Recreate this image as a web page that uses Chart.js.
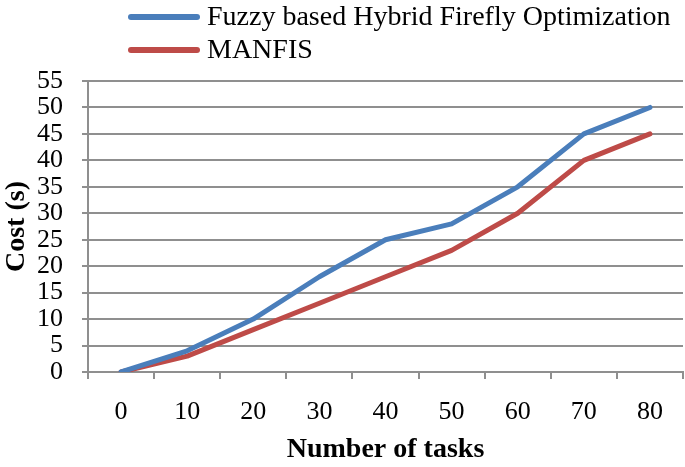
<!DOCTYPE html>
<html>
<head>
<meta charset="utf-8">
<script src="https://cdn.jsdelivr.net/npm/chart.js@4"></script>
<style>
  body { margin: 0; background: #fff; }
  #wrap { width: 685px; height: 467px; }
</style>
</head>
<body>
<div id="wrap"><canvas id="costchart" width="685" height="467"></canvas></div>
<script>
// data
const tasks = ['0', '10', '20', '30', '40', '50', '60', '70', '80'];
const fuzzyCost = [0, 4, 10, 18, 25, 28, 35, 45, 50];
const manfisCost = [0, 3, 8, 13, 18, 23, 30, 40, 45];

const seriesNames = ['Fuzzy based Hybrid Firefly Optimization', 'MANFIS'];
const seriesColors = ['#4A7EBB', '#BE4B48'];

// legend stacked in two rows, left aligned (built-in legend centres rows)
const stackLegend = {
  id: 'stackLegend',
  afterDraw(chart) {
    const c = chart.ctx;
    chart.data.datasets.forEach(function (ds, i) {
      const y = 17 + i * 33;
      c.save();
      c.strokeStyle = ds.borderColor;
      c.lineWidth = 6;
      c.lineCap = 'round';
      c.beginPath();
      c.moveTo(131, y);
      c.lineTo(197, y);
      c.stroke();
      c.fillStyle = '#000';
      c.font = '28px "Liberation Serif"';
      c.textBaseline = 'middle';
      c.fillText(ds.label, 207, y + 1);
      c.restore();
    });
  }
};

document.addEventListener("DOMContentLoaded", function () {
  const ctx = document.getElementById('costchart');
  if (ctx) {
    new Chart(ctx, {
      type: 'line',
      data: {
        labels: tasks,
        datasets: [{
          label: seriesNames[0],
          data: fuzzyCost,
          borderColor: seriesColors[0],
          backgroundColor: seriesColors[0],
          borderWidth: 5,
          pointRadius: 0,
          borderCapStyle: 'round',
          borderJoinStyle: 'round',
          tension: 0
        }, {
          label: seriesNames[1],
          data: manfisCost,
          borderColor: seriesColors[1],
          backgroundColor: seriesColors[1],
          borderWidth: 5,
          pointRadius: 0,
          borderCapStyle: 'round',
          borderJoinStyle: 'round',
          tension: 0
        }]
      },
      options: {
        responsive: false,
        animation: false,
        layout: {
          padding: { top: 81, right: 2, bottom: 0, left: 0 }
        },
        plugins: {
          legend: { display: false },
          tooltip: { enabled: false }
        },
        scales: {
          x: {
            offset: true,
            afterFit: function (scale) { scale.height = 95; },
            grid: {
              display: true,
              drawOnChartArea: false, // only the small tick marks
              offset: true,
              color: '#8f8f8f',
              lineWidth: 2,
              tickLength: 7
            },
            border: { color: '#8f8f8f', width: 2 },
            ticks: {
              autoSkip: false,
              maxRotation: 0,
              color: '#000',
              padding: 18,
              font: { family: '"Liberation Serif"', size: 26 }
            },
            title: {
              display: true,
              text: 'Number of tasks',
              color: '#000',
              padding: { top: 4, bottom: 0 },
              font: { family: '"Liberation Serif"', size: 28, weight: 'bold' }
            }
          },
          y: {
            min: 0,
            max: 55,
            afterFit: function (scale) { scale.width = 88; },
            grid: {
              color: '#8f8f8f',
              lineWidth: 2,
              tickLength: 6
            },
            border: { color: '#8f8f8f', width: 2 },
            ticks: {
              stepSize: 5,
              autoSkip: false,
              color: '#000',
              padding: 19,
              font: { family: '"Liberation Serif"', size: 26 }
            },
            title: {
              display: true,
              text: 'Cost (s)',
              color: '#000',
              padding: { top: 0, bottom: 3 },
              font: { family: '"Liberation Serif"', size: 28, weight: 'bold' }
            }
          }
        }
      },
      plugins: [stackLegend]
    });
  } else {
    console.error('canvas element with ID "costchart" not found');
  }
});
</script>
</body>
</html>
